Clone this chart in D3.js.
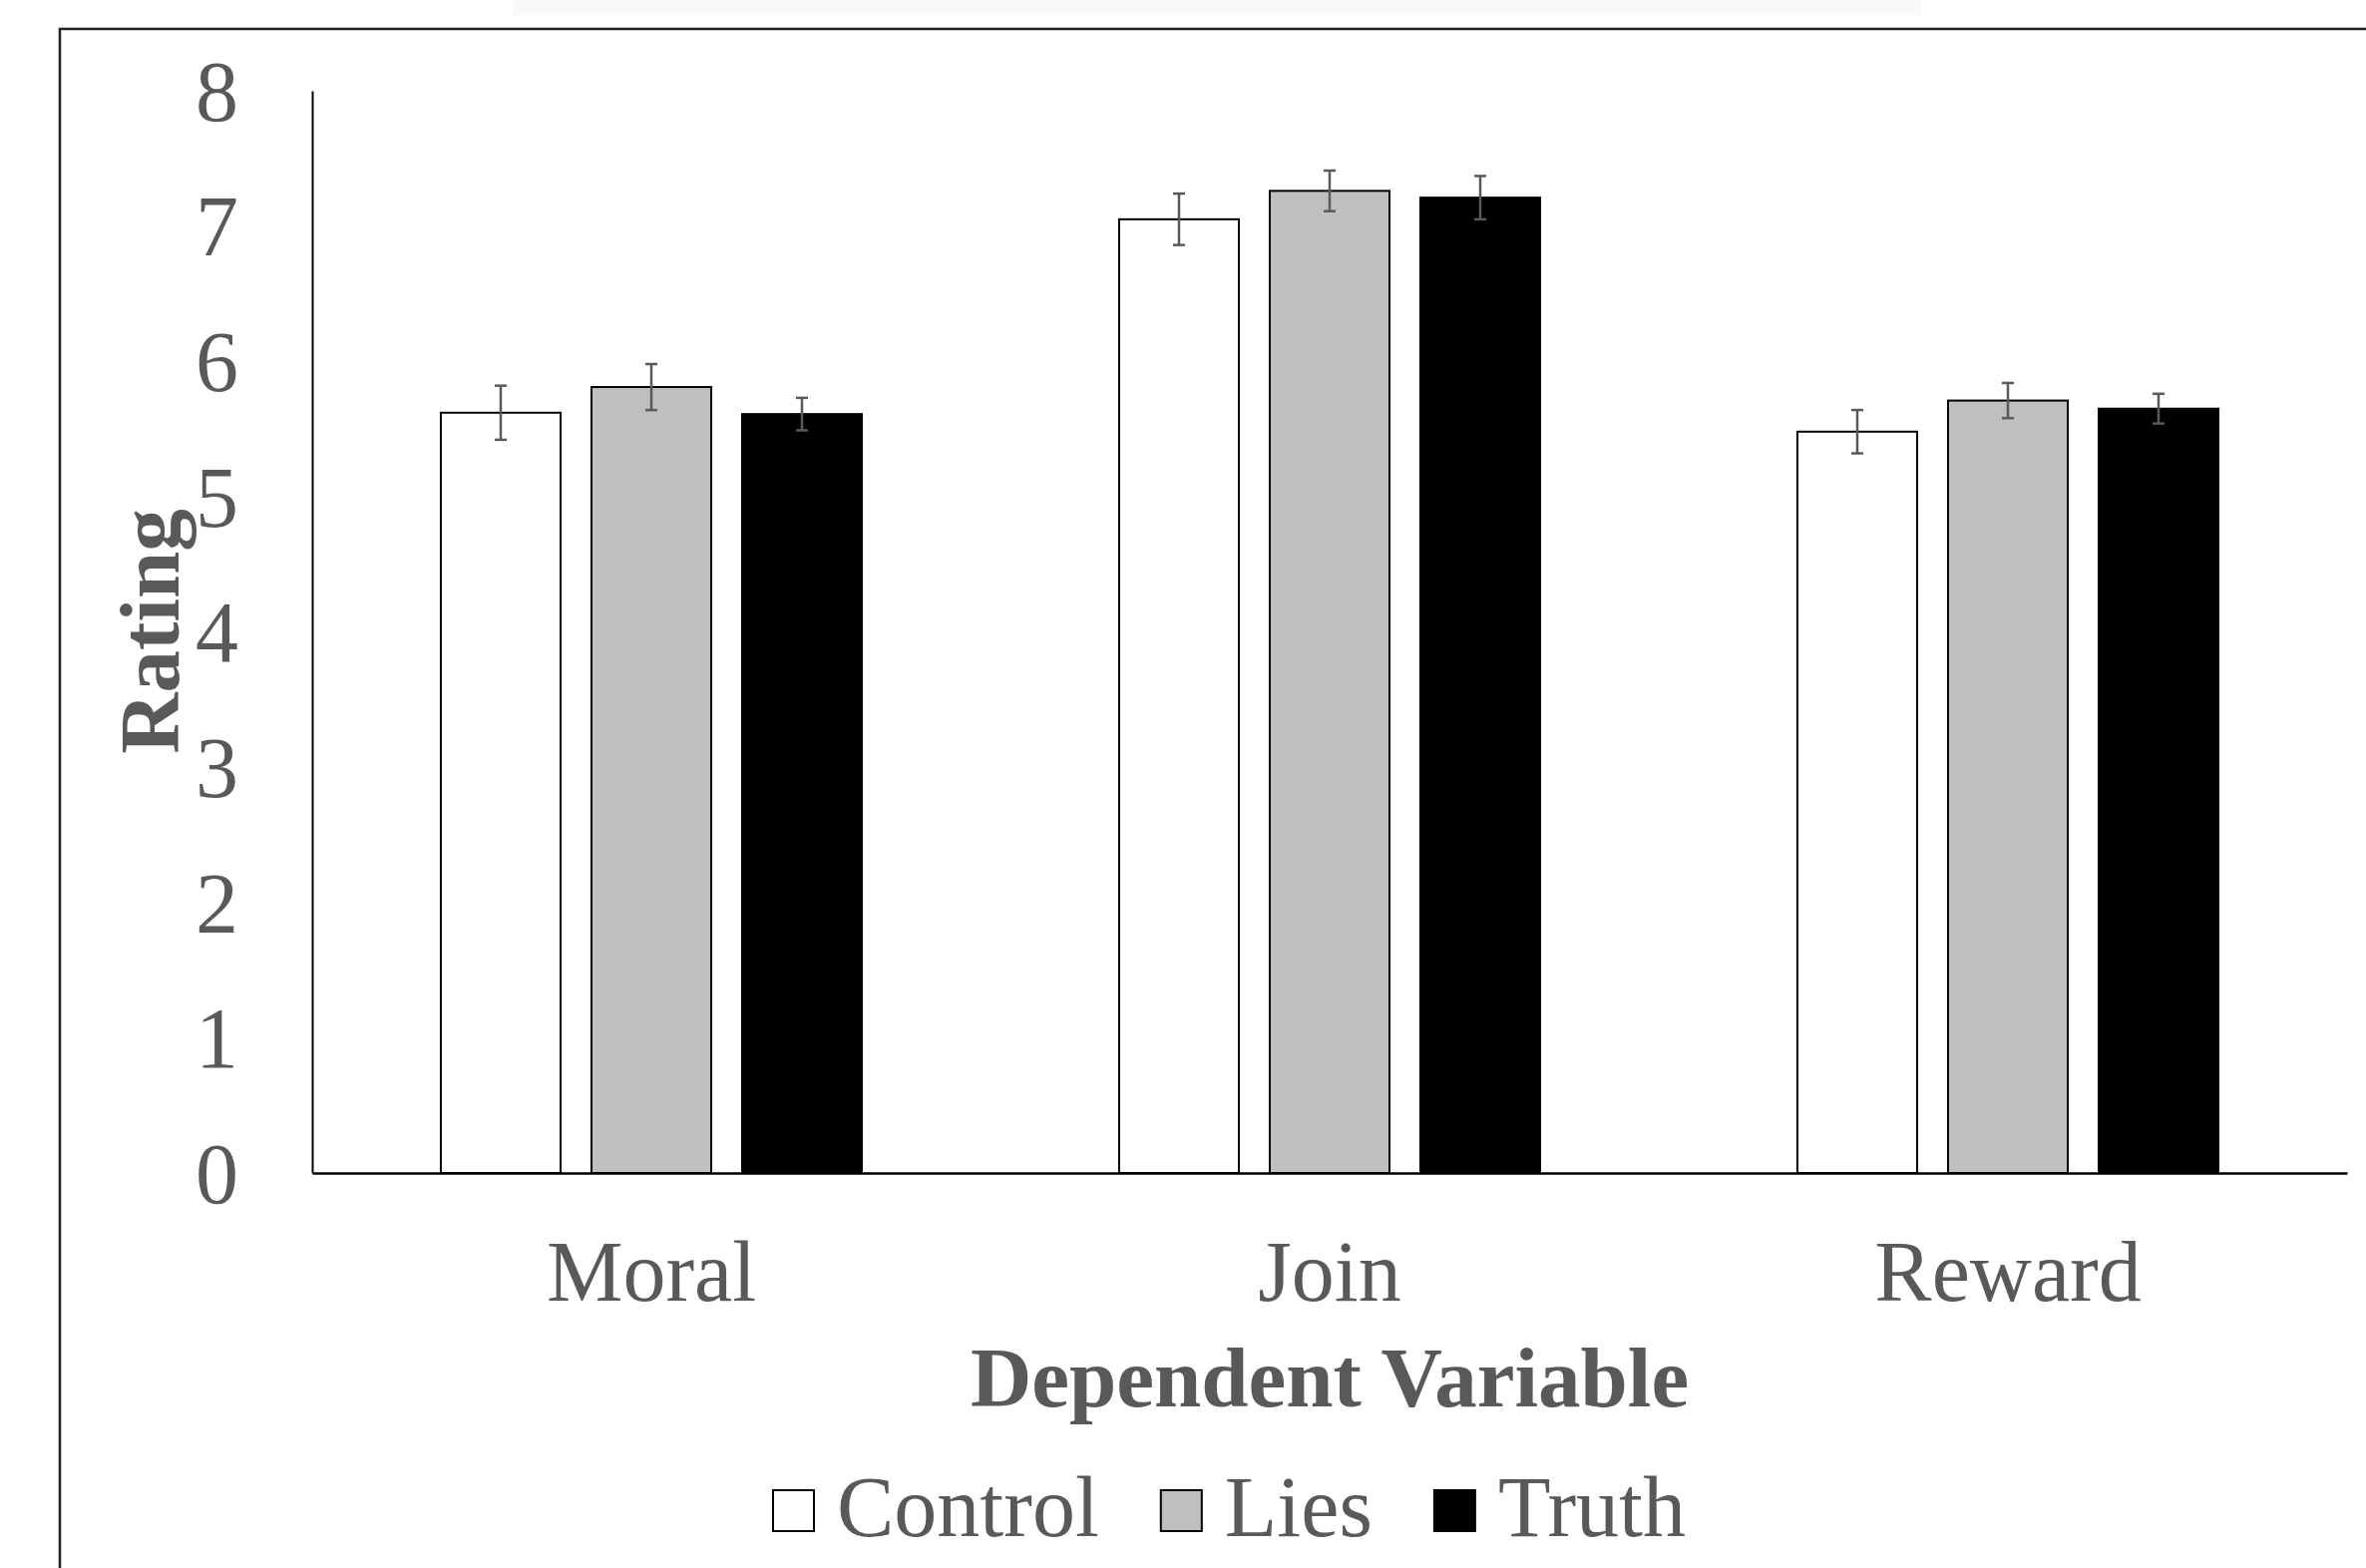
<!DOCTYPE html>
<html>
<head>
<meta charset="utf-8">
<script src="https://cdn.jsdelivr.net/npm/d3@7"></script>
<style>
  html, body { margin: 0; padding: 0; background: #fff; }
  svg { display: block; }
  text { font-family: "Liberation Serif", "Times New Roman", serif; fill: #595959; }
</style>
</head>
<body>
<svg id="chart" width="2372" height="1572"></svg>
<script>
// data
const categories = ["Moral", "Join", "Reward"];
const seriesNames = ["Control", "Lies", "Truth"];
const seriesFill = ["#ffffff", "#bfbfbf", "#000000"];
const controlMeans = [5.62, 7.05, 5.48];
const liesMeans    = [5.81, 7.26, 5.71];
const truthMeans   = [5.61, 7.21, 5.65];
const controlErr = [0.20, 0.19, 0.16];
const liesErr    = [0.17, 0.15, 0.13];
const truthErr   = [0.12, 0.16, 0.11];
const yTicks = [0, 1, 2, 3, 4, 5, 6, 7, 8];

const means = [controlMeans, liesMeans, truthMeans];
const errs = [controlErr, liesErr, truthErr];

const svg = d3.select("#chart");

// layout
const plotLeft = 313, plotRight = 2353, plotTop = 91, plotBottom = 1176;
const fontSize = 86;

// faint strip at top + outer frame
svg.append("rect").attr("x", 515).attr("y", 0).attr("width", 1411).attr("height", 15)
  .attr("fill", "#f8f9fa");
svg.append("path")
  .attr("d", "M60,1572 V29 H2372")
  .attr("fill", "none").attr("stroke", "#222").attr("stroke-width", 2.5);

const x = d3.scaleBand().domain(categories).range([plotLeft, plotRight]).padding(0);
const xs = d3.scaleBand().domain(seriesNames).range([0, x.bandwidth()])
  .paddingInner(0.205).paddingOuter(0.854);
const y = d3.scaleLinear().domain([0, 8]).range([plotBottom, plotTop]);

// y axis
const yAxis = svg.append("g")
  .attr("transform", `translate(${plotLeft},0)`)
  .call(d3.axisLeft(y).tickValues(yTicks).tickSize(0).tickSizeOuter(0).tickPadding(74));
yAxis.select(".domain").attr("stroke", "#000").attr("stroke-width", 2);
yAxis.selectAll("text")
  .style("font-family", '"Liberation Serif", serif')
  .attr("font-size", fontSize).attr("fill", "#595959").attr("dy", "0.34em");

// bars
const rows = [];
categories.forEach((c, ci) => {
  seriesNames.forEach((s, si) => {
    rows.push({ cat: c, ser: s, si, v: means[si][ci], e: errs[si][ci] });
  });
});

const g = svg.append("g");
g.selectAll("rect.bar")
  .data(rows)
  .enter().append("rect")
  .attr("class", "bar")
  .attr("x", d => x(d.cat) + xs(d.ser))
  .attr("y", d => y(d.v))
  .attr("width", xs.bandwidth())
  .attr("height", d => y(0) - y(d.v))
  .attr("fill", d => seriesFill[d.si])
  .attr("stroke", "#000")
  .attr("stroke-width", 2);

// error bars
const eb = g.selectAll("g.err").data(rows).enter().append("g")
  .attr("class", "err")
  .attr("stroke", "#595959").attr("stroke-width", 2.5);
const cx = d => x(d.cat) + xs(d.ser) + xs.bandwidth() / 2;
eb.append("line")
  .attr("x1", cx).attr("x2", cx)
  .attr("y1", d => y(d.v + d.e)).attr("y2", d => y(d.v - d.e));
eb.append("line")
  .attr("x1", d => cx(d) - 6).attr("x2", d => cx(d) + 6)
  .attr("y1", d => y(d.v + d.e)).attr("y2", d => y(d.v + d.e));
eb.append("line")
  .attr("x1", d => cx(d) - 6).attr("x2", d => cx(d) + 6)
  .attr("y1", d => y(d.v - d.e)).attr("y2", d => y(d.v - d.e));

// x axis
const xAxis = svg.append("g")
  .attr("transform", `translate(0,${plotBottom})`)
  .call(d3.axisBottom(x).tickSize(0).tickSizeOuter(0));
xAxis.select(".domain").attr("stroke", "#000").attr("stroke-width", 2.5);
xAxis.selectAll("text")
  .style("font-family", '"Liberation Serif", serif')
  .attr("font-size", fontSize).attr("fill", "#595959")
  .attr("y", 1304 - plotBottom).attr("dy", 0);

// axis titles
svg.append("text")
  .attr("x", (plotLeft + plotRight) / 2).attr("y", 1410)
  .attr("text-anchor", "middle")
  .attr("font-size", 85).attr("font-weight", "bold")
  .text("Dependent Variable");

svg.append("text")
  .attr("transform", "translate(179,633) rotate(-90)")
  .attr("text-anchor", "middle")
  .attr("font-size", 85).attr("font-weight", "bold")
  .text("Rating");

// legend
const legend = svg.append("g");
let lx = 775;
seriesNames.forEach((s, i) => {
  legend.append("rect")
    .attr("x", lx).attr("y", 1494).attr("width", 41).attr("height", 41)
    .attr("fill", seriesFill[i]).attr("stroke", "#000").attr("stroke-width", 2);
  const t = legend.append("text")
    .attr("x", lx + 64).attr("y", 1540)
    .attr("font-size", fontSize)
    .text(s);
  lx = lx + 64 + t.node().getComputedTextLength() + 62;
});
</script>
</body>
</html>
